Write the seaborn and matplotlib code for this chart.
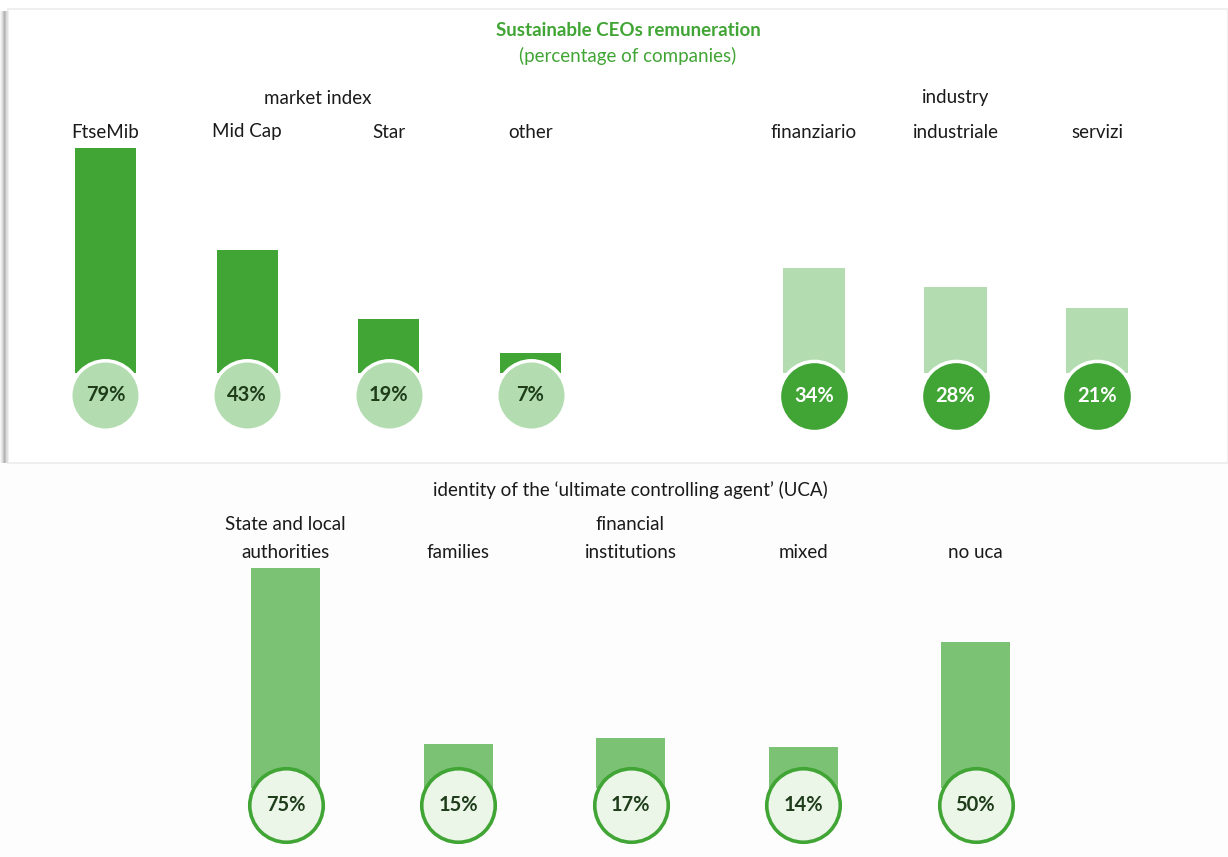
import matplotlib
matplotlib.use("Agg")
import matplotlib.pyplot as plt
import seaborn as sns
import pandas as pd
from matplotlib.patches import Rectangle

# ---------------- data ----------------
market_labels = ["FtseMib", "Mid Cap", "Star", "other"]
market_values = [79, 43, 19, 7]
industry_labels = ["finanziario", "industriale", "servizi"]
industry_values = [34, 28, 21]
uca_labels = ["State and local\nauthorities", "families", "financial\ninstitutions", "mixed", "no uca"]
uca_values = [75, 15, 17, 14, 50]

title = "Sustainable CEOs remuneration"
subtitle = "(percentage of companies)"
market_title = "market index"
industry_title = "industry"
uca_title = "identity of the \u2018ultimate controlling agent\u2019 (UCA)"

# ---------------- style ----------------
sns.set_theme(style="white")
plt.rcParams["font.family"] = ["Lato", "DejaVu Sans"]

DARK = "#41a535"
LIGHT = "#b3ddb0"
MID = "#7bc274"
PALE = "#ebf6e9"
TXT = "#1a1a1a"
PCT_DARK = "#1f3d1a"

W, H = 1228, 857
fig = plt.figure(figsize=(W / 100, H / 100), dpi=100)
fig.patch.set_facecolor("white")


def fx(px):
    return px / W


def fy(py):
    return 1 - py / H


# panel decorations
fig.patches.append(Rectangle((0, 0), 1, fy(463), transform=fig.transFigure,
                             facecolor="#fdfdfd", edgecolor="none", zorder=-5))
fig.patches.append(Rectangle((fx(8), fy(463)), fx(1228) - fx(8), fy(9) - fy(463),
                             transform=fig.transFigure, facecolor="white",
                             edgecolor="#ececec", linewidth=1.2, zorder=-4))
for i, a in enumerate([0.04, 0.08, 0.14, 0.22, 0.3, 0.24, 0.14, 0.06]):
    fig.patches.append(Rectangle((fx(i), fy(463)), fx(1), fy(11) - fy(463),
                                 transform=fig.transFigure, facecolor="black",
                                 alpha=a, edgecolor="none", zorder=-3))


def make_axes(left, right, top, bottom):
    return fig.add_axes([fx(left), fy(bottom), fx(right) - fx(left), fy(top) - fy(bottom)])


def pv(py, base, k):
    return (base - py) / k


PCT_FS = 14.5
LAB_FS = 13.5

# ---------------- market index ----------------
mb, mk = 373, 2.85
sp = 141.7
axm = make_axes(105.5 - sp / 2, 530.5 + sp / 2, 60, 450)
dfm = pd.DataFrame({"cat": market_labels, "val": market_values})
sns.barplot(data=dfm, x="cat", y="val", ax=axm, color=DARK, width=0.43,
            saturation=1, edgecolor="none")
axm.set_xlim(-0.5, 3.5)
axm.set_ylim(pv(450, mb, mk), pv(60, mb, mk))
cy = pv(395, mb, mk)
axm.scatter(range(4), [cy] * 4, s=2500, color=LIGHT, edgecolor="white",
            linewidth=2.5, zorder=5, clip_on=False)
for i, (lab, v) in enumerate(zip(market_labels, market_values)):
    axm.text(i, cy, f"{v}%", ha="center", va="center", fontsize=PCT_FS,
             fontweight="bold", color=PCT_DARK, zorder=6)
    axm.text(i, pv(132, mb, mk), lab, ha="center", va="center", fontsize=LAB_FS, color=TXT)
axm.text(1.5, pv(98, mb, mk), market_title, ha="center", va="center", fontsize=LAB_FS, color=TXT)
axm.set_axis_off()

# ---------------- industry ----------------
ib, ik = 373, 3.08
sp = 141.5
axi = make_axes(814 - sp / 2, 1097 + sp / 2, 60, 450)
dfi = pd.DataFrame({"cat": industry_labels, "val": industry_values})
sns.barplot(data=dfi, x="cat", y="val", ax=axi, color=LIGHT, width=0.44,
            saturation=1, edgecolor="none")
axi.set_xlim(-0.5, 2.5)
axi.set_ylim(pv(450, ib, ik), pv(60, ib, ik))
cy = pv(396, ib, ik)
axi.scatter(range(3), [cy] * 3, s=2550, color=DARK, edgecolor="white",
            linewidth=2.5, zorder=5, clip_on=False)
for i, (lab, v) in enumerate(zip(industry_labels, industry_values)):
    axi.text(i, cy, f"{v}%", ha="center", va="center", fontsize=PCT_FS,
             fontweight="bold", color="white", zorder=6)
    axi.text(i, pv(132, ib, ik), lab, ha="center", va="center", fontsize=LAB_FS, color=TXT)
axi.text(1, pv(98, ib, ik), industry_title, ha="center", va="center", fontsize=LAB_FS, color=TXT)
axi.set_axis_off()

# ---------------- UCA ----------------
ub, uk = 788, 2.93
sp = 172.5
axu = make_axes(285.5 - sp / 2, 975.5 + sp / 2, 475, 850)
dfu = pd.DataFrame({"cat": uca_labels, "val": uca_values})
sns.barplot(data=dfu, x="cat", y="val", ax=axu, color=MID, width=0.4,
            saturation=1, edgecolor="none")
axu.set_xlim(-0.5, 4.5)
axu.set_ylim(pv(850, ub, uk), pv(475, ub, uk))
cy = pv(805, ub, uk)
axu.scatter(range(5), [cy] * 5, s=2800, color=PALE, edgecolor=DARK,
            linewidth=2.6, zorder=5, clip_on=False)
for i, (lab, v) in enumerate(zip(uca_labels, uca_values)):
    axu.text(i, cy, f"{v}%", ha="center", va="center", fontsize=PCT_FS,
             fontweight="bold", color=PCT_DARK, zorder=6)
    axu.text(i, pv(561, ub, uk), lab, ha="center", va="bottom", fontsize=LAB_FS,
             color=TXT, linespacing=1.75)
axu.text(2, pv(490, ub, uk), uca_title, ha="center", va="center", fontsize=LAB_FS, color=TXT)
axu.set_axis_off()

# ---------------- titles ----------------
fig.text(fx(628), fy(30), title, ha="center", va="center", fontsize=13.5,
         fontweight="bold", color=DARK)
fig.text(fx(628), fy(56), subtitle, ha="center", va="center", fontsize=13.5, color=DARK)

fig.savefig("out.png", dpi=100)
